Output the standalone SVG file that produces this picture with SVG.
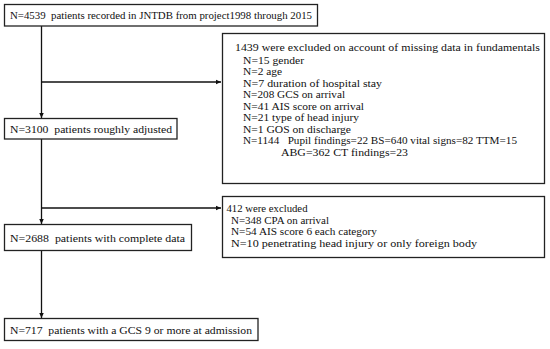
<svg xmlns="http://www.w3.org/2000/svg" width="550" height="349" viewBox="0 0 550 349">
<style>
.box{fill:#fff;stroke:#222;stroke-width:1.3}
.t{font-family:"Liberation Serif","Times New Roman",serif;font-size:11px;fill:#111;white-space:pre}
.c{fill:none;stroke:#111;stroke-width:1.3}
</style>
<defs>
<marker id="ah" markerUnits="userSpaceOnUse" markerWidth="6" markerHeight="6" refX="5.5" refY="3" orient="auto">
<path d="M0,0.5 L5.5,3 L0,5.5 Z" fill="#111"/>
</marker>
</defs>
<g id="connectors">
<line class="c" x1="41.5" y1="26" x2="41.5" y2="118" marker-end="url(#ah)"/>
<line class="c" x1="41.5" y1="82" x2="221" y2="82" marker-end="url(#ah)"/>
<line class="c" x1="41.5" y1="139" x2="41.5" y2="224" marker-end="url(#ah)"/>
<line class="c" x1="41.5" y1="208" x2="221" y2="208" marker-end="url(#ah)"/>
<line class="c" x1="41.5" y1="250" x2="41.5" y2="318" marker-end="url(#ah)"/>
</g>
<g id="n1">
<rect class="box" x="4.5" y="4.5" width="313" height="21.5"/>
<text class="t" x="10" y="19" textLength="302" lengthAdjust="spacingAndGlyphs" xml:space="preserve">N=4539  patients recorded in JNTDB from project1998 through 2015</text>
</g>
<g id="n2">
<rect class="box" x="222.5" y="33.5" width="322" height="150"/>
<text class="t" x="235" y="51" textLength="305" lengthAdjust="spacingAndGlyphs">1439 were excluded on account of missing data in fundamentals</text>
<text class="t" x="243" y="63.5" textLength="61" lengthAdjust="spacingAndGlyphs">N=15 gender</text>
<text class="t" x="243" y="75" textLength="39" lengthAdjust="spacingAndGlyphs">N=2 age</text>
<text class="t" x="243" y="86.5" textLength="139" lengthAdjust="spacingAndGlyphs">N=7 duration of hospital stay</text>
<text class="t" x="243" y="98" textLength="102" lengthAdjust="spacingAndGlyphs">N=208 GCS on arrival</text>
<text class="t" x="243" y="109.5" textLength="121" lengthAdjust="spacingAndGlyphs">N=41 AIS score on arrival</text>
<text class="t" x="243" y="121" textLength="116" lengthAdjust="spacingAndGlyphs">N=21 type of head injury</text>
<text class="t" x="243" y="132.5" textLength="108" lengthAdjust="spacingAndGlyphs">N=1 GOS on discharge</text>
<text class="t" x="243" y="144" textLength="274" lengthAdjust="spacingAndGlyphs" xml:space="preserve">N=1144   Pupil findings=22 BS=640 vital signs=82 TTM=15</text>
<text class="t" x="281" y="155.5" textLength="127" lengthAdjust="spacingAndGlyphs">ABG=362 CT findings=23</text>
</g>
<g id="n3">
<rect class="box" x="4.5" y="118.5" width="172.5" height="20.5"/>
<text class="t" x="10" y="132.5" textLength="162" lengthAdjust="spacingAndGlyphs" xml:space="preserve">N=3100  patients roughly adjusted</text>
</g>
<g id="n4">
<rect class="box" x="222.5" y="196.5" width="322" height="61"/>
<text class="t" x="226.5" y="212" textLength="81" lengthAdjust="spacingAndGlyphs">412 were excluded</text>
<text class="t" x="231" y="223.5" textLength="98" lengthAdjust="spacingAndGlyphs">N=348 CPA on arrival</text>
<text class="t" x="231" y="235" textLength="146" lengthAdjust="spacingAndGlyphs">N=54 AIS score 6 each category</text>
<text class="t" x="231" y="246.5" textLength="246" lengthAdjust="spacingAndGlyphs">N=10 penetrating head injury or only foreign body</text>
</g>
<g id="n5">
<rect class="box" x="4.5" y="224.5" width="187" height="26"/>
<text class="t" x="10" y="241.5" textLength="175" lengthAdjust="spacingAndGlyphs" xml:space="preserve">N=2688  patients with complete data</text>
</g>
<g id="n6">
<rect class="box" x="4.5" y="318.5" width="253.5" height="22"/>
<text class="t" x="10" y="334" textLength="242" lengthAdjust="spacingAndGlyphs" xml:space="preserve">N=717  patients with a GCS 9 or more at admission</text>
</g>
</svg>
